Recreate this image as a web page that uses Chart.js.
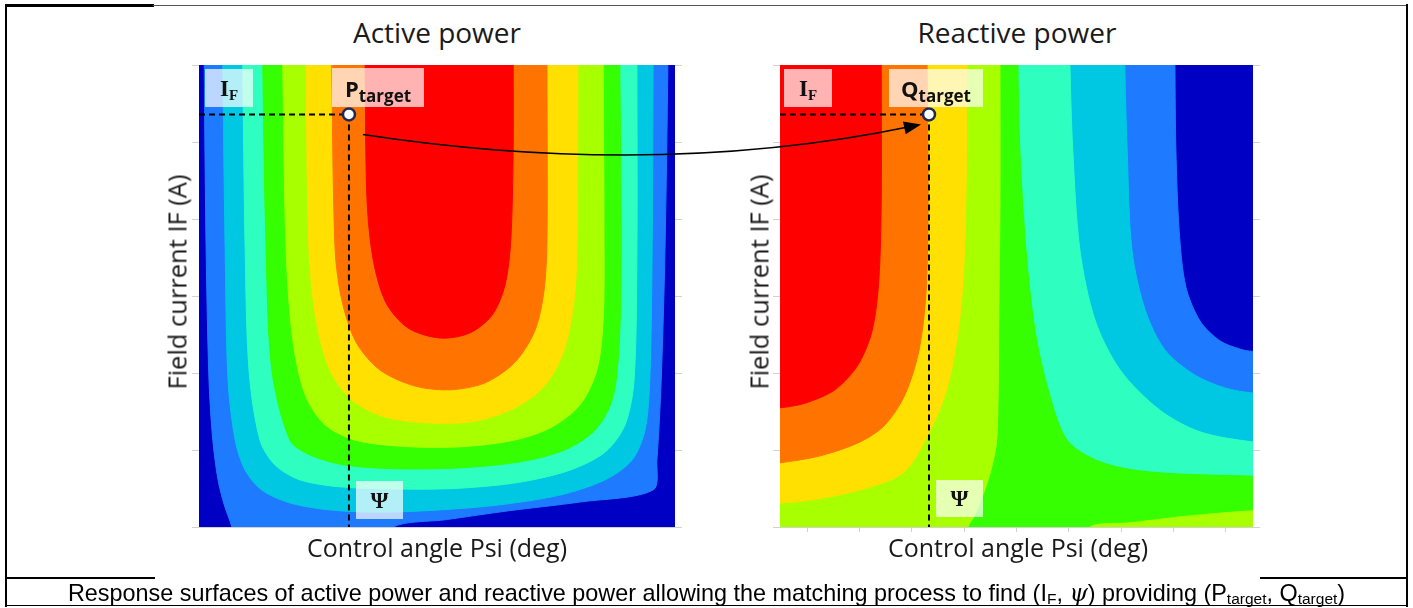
<!DOCTYPE html>
<html>
<head>
<meta charset="utf-8">
<script src="https://cdn.jsdelivr.net/npm/chart.js@4.4.1/dist/chart.umd.min.js"></script>
<style>
  html, body { margin:0; padding:0; background:#fff; }
  body { position:relative; width:1413px; height:608px; overflow:hidden; font-family:'Open Sans', sans-serif; color:#1a1a1a; }
  canvas { position:absolute; }
  .title { position:absolute; font-size:28px; line-height:28px; white-space:nowrap; transform:translateX(-50%); }
  .xt { position:absolute; font-size:25px; line-height:25px; white-space:nowrap; transform:translateX(-50%); }
  .yt { position:absolute; font-size:25.5px; line-height:25px; white-space:nowrap; transform:translate(-50%,-50%) rotate(-90deg); }
  .box { position:absolute; background:rgba(255,255,255,0.7); display:flex; align-items:center; justify-content:center; white-space:nowrap; }
  .ser { font-family:'Liberation Serif','DejaVu Serif',serif; font-weight:bold; font-size:23px; color:#111; line-height:1; }
  .ser sub { font-size:15px; vertical-align:-4px; line-height:0; }
  .sans { font-family:'Open Sans',sans-serif; font-weight:bold; font-size:22px; color:#111; line-height:1; }
  .sans sub { font-size:17px; vertical-align:-5px; line-height:0; }
  .cap { position:absolute; left:0; width:1413px; text-align:center; font-family:'Liberation Sans',Arial,sans-serif; font-size:23.4px; line-height:24px; color:#000; top:581px; white-space:nowrap; }
  .cap sub { font-size:15.5px; vertical-align:-3px; line-height:0; }
  .cap i { font-family:'DejaVu Serif',serif; }
  .ln { position:absolute; background:#000; }
</style>
</head>
<body>
<div class="ln" style="left:5px;top:4px;width:149px;height:3px;"></div>
<div class="ln" style="left:153px;top:5px;width:1255px;height:1px;background:#555;"></div>
<div class="ln" style="left:5px;top:4px;width:2px;height:603px;"></div>
<div class="ln" style="left:1406px;top:4px;width:2px;height:603px;"></div>
<div class="ln" style="left:5px;top:577px;width:150px;height:2px;"></div>
<div class="ln" style="left:1260px;top:577px;width:148px;height:2px;"></div>
<div class="ln" style="left:5px;top:605px;width:1403px;height:1px;"></div>

<div class="title" style="left:437px;top:18px;">Active power</div>
<div class="title" style="left:1017px;top:18px;">Reactive power</div>

<canvas id="cP" width="500" height="482" style="left:189px;top:55px;"></canvas>
<canvas id="cQ" width="500" height="482" style="left:770px;top:55px;"></canvas>
<canvas id="arrow" width="1413" height="608" style="left:0;top:0;pointer-events:none;"></canvas>

<div class="xt" style="left:437px;top:535px;">Control angle Psi (deg)</div>
<div class="xt" style="left:1018px;top:535px;">Control angle Psi (deg)</div>
<div class="yt" style="left:177px;top:282px;">Field current IF (A)</div>
<div class="yt" style="left:759px;top:282px;">Field current IF (A)</div>

<div class="box" style="left:205px;top:69px;width:48px;height:38px;"><span class="ser">I<sub>F</sub></span></div>
<div class="box" style="left:332px;top:68px;width:92px;height:39px;"><span class="sans">P<sub>target</sub></span></div>
<div class="box" style="left:784px;top:69px;width:48px;height:38px;"><span class="ser">I<sub>F</sub></span></div>
<div class="box" style="left:889px;top:69px;width:94px;height:38px;"><span class="sans">Q<sub>target</sub></span></div>
<div class="box" style="left:356px;top:481px;width:47px;height:38px;"><span class="ser">Ψ</span></div>
<div class="box" style="left:936px;top:480px;width:47px;height:37px;"><span class="ser">Ψ</span></div>

<div class="cap">Response surfaces of active power and reactive power allowing the matching process to find (I<sub>F</sub>, <i>ψ</i>) providing (P<sub>target</sub>, Q<sub>target</sub>)</div>

<script>
// ---------- data (psi and IF in % of their axis range) ----------
const psiRange = [0, 100];
const ifRange = [0, 100];
const ifTicks = [0, 16.67, 33.33, 50, 66.67, 83.33, 100];
const psiTicksReactive = [5.7, 16.75, 27.8, 38.85, 49.9, 60.95, 72.0, 83.05, 94.1];
const psiTarget = 31.5;
const ifTarget = 89.3;

// Active power: regions where P >= level k (k = 1..8)
const activeL1 = [[1.1,110],[1.1,100],[1.5,60],[2.1,31.8],[2.9,18.8],[4.0,10.2],[5.3,4.8],[6.9,0],[7.8,-5],[40.1,-5],[40.8,0],[52,1.6],[65,3.5],[80,5.4],[95.4,8],[96.2,14.5],[97.1,31.8],[97.9,60],[98.5,100],[98.5,110]];
const activeL2 = [[5.0,110],[5.0,100],[5.5,60],[6.1,31.8],[7.6,18.8],[9.7,12.3],[13.2,8.0],[19.1,5.2],[27.5,3.7],[38,3.2],[50.6,3.7],[63.2,4.8],[75.8,6.9],[85.3,10.2],[91,14.5],[93.7,21],[94.7,31.8],[95.2,60],[95.4,100],[95.4,110]];
const activeL3 = [[9.2,110],[9.2,100],[9.7,60],[10.5,34],[12.8,18.8],[16,13.4],[21.2,10.2],[29.6,8.7],[42.2,8.2],[54.8,8.4],[67.4,9.7],[77.9,12.3],[85.3,16.2],[89.5,22.1],[91.4,31.8],[92,60],[92,100],[92,110]];
const activeL4 = [[13.4,110],[13.4,100],[14.1,60],[15.3,34],[19.1,18.8],[23.3,15.6],[30.7,13.4],[42.2,12.6],[54.8,12.8],[67.4,14.1],[76.9,16.7],[83.2,21],[86.8,27.5],[88.2,38.3],[88.7,60],[88.4,100],[88.4,110]];
const activeL5 = [[17.6,110],[17.6,100],[18.3,60],[19.7,40.5],[22.3,28.6],[26.5,22.1],[32.8,18.8],[42.2,17.5],[53.8,17.3],[65.3,18.6],[73.7,21.4],[80,26.4],[83.6,34],[84.9,44.8],[85.1,60],[84.9,100],[84.9,110]];
const activeL6 = [[22.5,110],[22.5,100],[23.1,60],[24.6,44.8],[27.5,34],[32.1,27.5],[39.1,23.8],[48.5,22.5],[58,22.9],[66.4,25.8],[72.7,30.7],[76.7,38.3],[78.8,49.1],[79.4,60],[79.6,100],[79.6,110]];
const activeL7 = [[27.9,110],[27.9,100],[28.6,60],[30,49.1],[33,40],[38,34],[45.4,30.5],[52.7,29.7],[60.1,31.2],[66.4,35.7],[70.6,42.6],[72.5,51.3],[73.1,62.1],[73.1,100],[73.1,110]];
const activeL8 = [[34.9,110],[34.9,100],[35.3,70.8],[36.6,57.8],[39.3,48.5],[43.9,43.1],[50.6,40.9],[56.9,42],[61.6,45.9],[64.3,52.4],[65.5,62.1],[66,81.6],[66,100],[66,110]];

// Reactive power: regions where Q >= level k
const reactiveL1 = [[-5,110],[83.5,110],[83.5,100],[83.7,81.6],[84.4,64],[85.8,52],[88.8,44.6],[93,40.3],[97.3,38.5],[100,38],[106,38],[106,-5],[-5,-5]];
const reactiveL2 = [[-5,110],[72.9,110],[72.9,100],[73.4,81.6],[74.4,60],[77.2,47],[81.4,38.3],[87.7,32.9],[94.1,30.1],[100,29],[106,29],[106,-5],[-5,-5]];
const reactiveL3 = [[-5,110],[61.3,110],[61.3,100],[61.9,81.6],[63.4,60],[66.6,44.8],[71.9,34],[80.3,25.3],[88.8,20.6],[100,18.4],[106,18.2],[106,-5],[-5,-5]];
const reactiveL4 = [[-5,110],[50.3,110],[50.3,100],[50.7,81.6],[52,60],[53.9,42.6],[56.7,29.7],[60.7,18.8],[67.7,14.1],[78.2,11.9],[100,11],[106,11],[106,-5],[-5,-5]];
const reactiveL5 = [[-5,110],[46.5,110],[46.5,100],[46.5,70.8],[46.3,49.1],[46.1,27.5],[45.7,17.7],[44,10.2],[41.2,2.6],[39.7,0],[39,-5],[-5,-5]];
const reactiveL5b = [[64,-5],[65.5,0],[74,0.9],[84.6,2.2],[93,3],[100,3.5],[106,3.6],[106,-5]];
const reactiveL6 = [[-5,110],[39.5,110],[39.5,100],[39.3,70.8],[38.7,53.5],[37.4,40.5],[34.9,28.6],[30.7,18.8],[26,11.7],[16.9,8],[6.3,5.8],[0,5.2],[-5,5]];
const reactiveL7 = [[-5,110],[31.1,110],[31.1,100],[31.3,70.8],[30.9,51.3],[29.4,38.3],[26.4,28.6],[22.2,22.1],[16.9,18.4],[8.5,15.4],[0,13.9],[-5,13.5]];
const reactiveL8 = [[-5,110],[21.4,110],[21.4,100],[21.4,70.8],[20.9,53.5],[19.5,42.6],[16.5,35.1],[11.6,29.7],[5.3,26.8],[0,25.8],[-5,25.5]];

// ---------- styles ----------
const palette = ['#0000c4','#1e7bff','#00c8e2','#2effc0','#35ff00','#a8ff00','#ffe000','#ff7400','#ff0000'];

const activeLayers = [
  [activeL1,1],[activeL2,2],[activeL3,3],[activeL4,4],[activeL5,5],[activeL6,6],[activeL7,7],[activeL8,8]
];
const reactiveLayers = [
  [reactiveL1,1],[reactiveL2,2],[reactiveL3,3],[reactiveL4,4],[reactiveL5,5],[reactiveL5b,5],[reactiveL6,6],[reactiveL7,7],[reactiveL8,8]
];

function regionSets(layers) {
  return layers.map(([pts, lvl], i) => ({
    data: pts.map(p => ({x: p[0], y: p[1]})),
    showLine: true,
    fill: 'shape',
    backgroundColor: palette[lvl],
    borderColor: palette[lvl],
    borderWidth: 1,
    pointRadius: 0,
    pointHoverRadius: 0,
    tension: 0.3,
    order: 200 - i
  }));
}

function markerSets() {
  return [
    { data: [{x: psiRange[0], y: ifTarget}, {x: psiTarget, y: ifTarget}], showLine: true, fill: false,
      borderColor: '#000', borderWidth: 2, borderDash: [6, 4], pointRadius: 0, order: 1 },
    { data: [{x: psiTarget, y: ifTarget}, {x: psiTarget, y: ifRange[0]}], showLine: true, fill: false,
      borderColor: '#000', borderWidth: 2, borderDash: [6, 4], pointRadius: 0, order: 1 },
    { data: [{x: psiTarget, y: ifTarget}], showLine: false, pointRadius: 6, pointBackgroundColor: '#fff',
      pointBorderColor: '#1c2a55', pointBorderWidth: 2.5, order: 0 }
  ];
}

const areaBg = {
  id: 'areaBg',
  beforeDatasetsDraw(chart) {
    const {ctx, chartArea: a} = chart;
    ctx.save();
    ctx.fillStyle = palette[0];
    ctx.fillRect(a.left, a.top, a.right - a.left, a.bottom - a.top);
    ctx.restore();
  }
};

const frame = {
  id: 'frame',
  afterDraw(chart, args, o) {
    const {ctx, chartArea: a, scales: {x, y}} = chart;
    ctx.save();
    ctx.strokeStyle = '#d2d2d2';
    ctx.lineWidth = 1;
    ctx.beginPath();
    ifTicks.forEach(v => {
      const py = Math.round(y.getPixelForValue(v)) + 0.5;
      ctx.moveTo(a.left - 7, py); ctx.lineTo(a.left, py);
      ctx.moveTo(a.right, py); ctx.lineTo(a.right + 7, py);
    });
    const by = Math.round(a.bottom) + 0.5;
    ctx.moveTo(a.left - 3, by); ctx.lineTo(a.right + 5, by);
    (o.xTicks || []).forEach(v => {
      const px = Math.round(x.getPixelForValue(v)) + 0.5;
      ctx.moveTo(px, a.bottom); ctx.lineTo(px, a.bottom + 5);
    });
    ctx.stroke();
    ctx.restore();
  }
};

function makeChart(id, layers, padding, xTicks) {
  return new Chart(document.getElementById(id), {
    type: 'scatter',
    data: { datasets: markerSets().concat(regionSets(layers)) },
    options: {
      responsive: false,
      animation: false,
      events: [],
      layout: { padding },
      plugins: {
        legend: { display: false },
        tooltip: { enabled: false },
        frame: { xTicks }
      },
      scales: {
        x: { type: 'linear', min: psiRange[0], max: psiRange[1], display: false },
        y: { type: 'linear', min: ifRange[0], max: ifRange[1], display: false }
      }
    },
    plugins: [areaBg, frame]
  });
}

const chartP = makeChart('cP', activeLayers, {left: 10, right: 14, top: 10, bottom: 10}, []);
const chartQ = makeChart('cQ', reactiveLayers, {left: 10, right: 17, top: 10, bottom: 10}, psiTicksReactive);

function targetPx(chart, offX, offY) {
  return { x: offX + chart.scales.x.getPixelForValue(psiTarget), y: offY + chart.scales.y.getPixelForValue(ifTarget) };
}

(function drawArrow() {
  const ctx = document.getElementById('arrow').getContext('2d');
  const p1 = targetPx(chartP, 189, 55), p2 = targetPx(chartQ, 770, 55);
  const s = {x: p1.x + 14, y: p1.y + 20};
  const e = {x: p2.x - 8, y: p2.y + 10};
  const cp = {x: (s.x + e.x) / 2 + 16, y: Math.max(s.y, e.y) + 45};
  const ang = Math.atan2(e.y - cp.y, e.x - cp.x);
  const L = 17, W = 6.5;
  ctx.strokeStyle = '#000';
  ctx.lineWidth = 1.6;
  ctx.beginPath();
  ctx.moveTo(s.x, s.y);
  ctx.quadraticCurveTo(cp.x, cp.y, e.x - 8 * Math.cos(ang), e.y - 8 * Math.sin(ang));
  ctx.stroke();
  ctx.beginPath();
  ctx.moveTo(e.x, e.y);
  ctx.lineTo(e.x - L * Math.cos(ang) + W * Math.sin(ang), e.y - L * Math.sin(ang) - W * Math.cos(ang));
  ctx.lineTo(e.x - L * Math.cos(ang) - W * Math.sin(ang), e.y - L * Math.sin(ang) + W * Math.cos(ang));
  ctx.closePath();
  ctx.fillStyle = '#000';
  ctx.fill();
})();
</script>
</body>
</html>
